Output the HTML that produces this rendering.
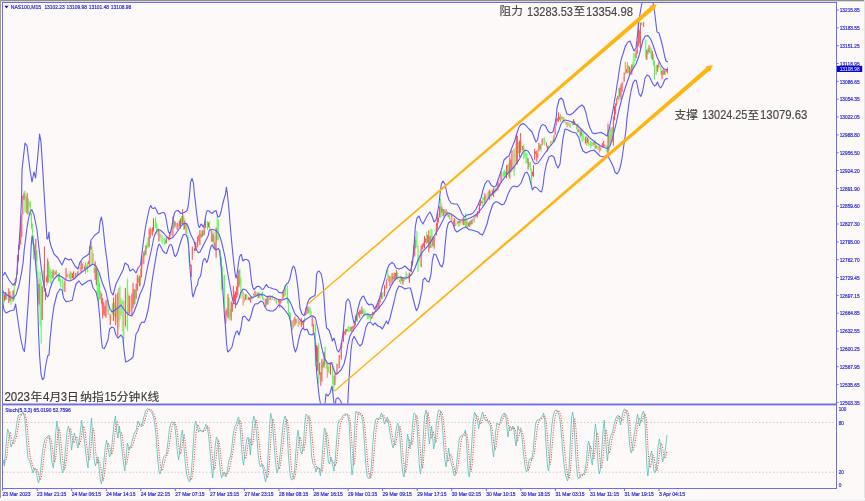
<!DOCTYPE html>
<html><head><meta charset="utf-8"><title>NAS100 M15</title>
<style>html,body{margin:0;padding:0;background:#FDF9F8;}body{width:865px;height:501px;overflow:hidden;position:relative;font-family:"Liberation Sans",sans-serif;}</style>
</head><body>
<svg width="865" height="501" viewBox="0 0 865 501" style="position:absolute;left:0;top:0;font-family:'Liberation Sans',sans-serif">
<defs><clipPath id="cm"><rect x="3" y="3" width="833" height="400.5"/></clipPath><clipPath id="cs"><rect x="3" y="405" width="833" height="83"/></clipPath></defs>
<rect x="0" y="0" width="865" height="1" fill="#8f8f8f"/>
<rect x="0" y="1" width="865" height="1" fill="#d9d6d6"/>
<rect x="0" y="0" width="1" height="498" fill="#9c9c9c"/>
<rect x="864" y="0" width="1" height="498" fill="#e4e2e2"/>
<rect x="0" y="499" width="865" height="2" fill="#f4f2f2"/>
<g clip-path="url(#cm)">
<g style="mix-blend-mode:multiply"><path d="M3.4 290.0V307.0M6.6 291.4V300.3M11.0 295.0V305.0M12.0 292.3V302.6M14.2 283.0V300.0M16.4 272.7V279.2M25.0 190.0V213.6M26.1 195.0V213.0M29.3 200.1V211.9M30.4 201.0V216.0M31.5 212.0V230.0M32.6 222.0V245.0M33.6 235.0V260.0M34.7 243.3V254.2M36.9 250.0V275.0M37.9 270.0V302.0M40.1 268.0V330.0M41.2 280.0V344.0M43.3 263.8V301.6M48.7 261.0V283.0M49.8 265.7V283.4M50.9 270.0V285.0M52.0 271.6V281.9M54.1 269.6V275.9M57.4 271.5V277.3M58.5 273.0V281.6M59.5 273.0V281.6M60.6 276.4V287.2M61.7 280.4V288.7M62.8 278.6V295.0M68.2 270.7V278.3M69.3 273.1V278.8M71.4 272.1V279.3M74.7 271.4V277.4M76.8 271.9V275.9M79.0 268.6V272.8M83.3 261.9V270.2M85.5 262.0V274.0M86.5 263.9V272.0M87.6 262.0V273.0M91.9 245.5V265.0M94.1 260.6V273.6M97.3 268.0V295.0M98.4 273.0V306.0M99.5 282.0V300.0M100.6 289.9V302.8M108.1 298.6V315.0M111.4 307.3V318.4M112.4 303.3V320.5M114.6 293.9V322.5M118.9 285.8V330.0M120.0 285.0V321.0M121.1 297.2V316.5M123.2 298.6V345.0M126.5 286.5V329.3M127.6 276.8V332.4M130.8 295.9V312.1M135.1 289.5V304.6M138.4 273.9V285.0M144.8 248.2V256.4M147.0 241.6V251.4M148.1 237.1V248.5M151.3 229.0V234.5M154.6 221.1V229.7M155.6 217.0V228.6M156.7 222.5V234.6M157.8 226.5V236.6M161.0 233.5V241.2M162.1 234.6V243.6M163.2 235.9V243.4M164.3 237.6V245.0M165.4 238.1V243.7M167.5 237.5V242.9M171.8 226.2V234.5M174.0 219.5V228.6M178.3 222.7V228.5M181.5 216.0V225.1M183.7 215.0V230.0M186.9 222.5V234.6M188.0 234.6V243.6M189.1 251.0V263.0M193.4 246.4V253.8M201.0 232.6V238.2M203.1 228.4V235.5M206.4 220.7V228.3M207.5 221.0V230.0M209.6 221.0V230.0M210.7 226.4V234.7M213.9 230.2V249.4M217.2 214.0V242.0M218.3 219.5V240.6M219.3 235.8V252.8M220.4 249.6V266.0M221.5 255.0V292.6M222.6 266.0V290.0M224.7 273.0V310.6M229.1 297.0V321.0M230.1 302.5V320.4M239.9 267.8V286.6M240.9 277.5V298.6M242.0 289.1V296.8M244.2 294.9V302.5M246.3 294.0V300.0M251.7 296.0V300.9M252.8 294.1V298.4M257.1 292.1V296.4M259.3 292.6V297.9M261.4 291.8V297.7M262.5 291.0V300.0M263.6 295.2V300.3M266.8 298.2V304.8M269.0 297.1V302.8M271.2 296.6V300.4M272.2 295.6V300.0M273.3 297.4V299.7M276.6 298.6V304.6M277.6 300.5V304.9M284.1 288.8V297.0M286.3 288.9V299.6M287.4 285.0V304.6M288.4 298.6V315.0M289.5 311.0V319.4M290.6 312.0V327.0M292.8 319.6V330.0M293.8 318.2V327.7M297.1 319.7V324.4M298.2 318.0V327.0M300.3 318.3V325.0M302.5 319.6V325.1M304.6 316.8V322.6M309.0 308.0V313.8M310.0 306.0V315.0M311.1 310.9V318.5M314.3 320.3V350.7M315.4 323.0V367.6M318.7 340.5V384.0M323.0 359.7V375.0M325.1 346.6V364.6M326.2 362.2V369.7M328.4 364.6V373.5M331.6 367.3V377.4M332.7 361.6V385.6M333.8 376.0V392.0M338.1 361.3V368.8M340.3 349.9V362.5M347.8 326.7V331.9M348.9 325.5V333.0M350.0 326.4V331.2M357.5 312.5V321.9M362.9 308.8V313.6M364.0 308.6V316.0M365.1 310.9V316.7M366.2 312.2V316.0M367.3 313.0V319.0M368.3 313.0V319.0M369.4 314.0V319.1M370.5 314.6V321.4M374.8 308.8V313.2M382.4 292.0V299.6M387.8 269.6V280.0M391.0 274.1V282.3M393.2 273.9V280.6M397.5 271.6V279.7M398.6 273.1V280.1M399.6 276.6V283.6M400.7 275.6V284.6M404.0 276.5V282.2M406.1 271.0V280.0M408.3 273.0V279.6M410.4 271.4V276.7M415.8 237.1V249.4M416.9 230.0V248.0M418.0 245.0V272.0M419.1 251.3V265.0M420.2 248.8V265.9M426.6 231.6V245.0M431.0 228.6V248.0M432.0 228.6V248.0M440.7 197.8V218.0M442.8 208.4V217.4M445.0 210.9V214.3M449.3 212.0V219.6M451.5 213.6V221.0M455.8 219.1V226.6M456.9 219.8V224.7M459.0 219.6V227.0M461.2 219.9V226.2M464.4 217.2V226.7M465.5 212.8V228.6M466.6 219.1V227.4M467.7 221.0V228.6M470.9 220.1V225.7M473.1 218.4V222.1M475.2 214.7V219.0M482.8 197.0V206.0M483.9 196.2V203.7M486.0 195.1V203.6M488.2 191.4V200.4M490.3 189.7V199.1M494.7 187.4V194.4M495.7 187.2V193.3M503.3 170.1V177.7M504.4 169.6V178.6M505.5 170.6V176.6M507.6 164.2V175.1M508.7 160.3V178.7M514.1 147.0V177.0M518.4 142.0V154.0M523.8 144.0V159.0M524.9 148.9V158.7M526.0 153.0V163.6M527.0 153.0V163.6M529.2 160.5V167.5M530.3 162.0V171.0M531.4 168.0V184.6M541.1 144.0V151.6M544.3 136.5V145.6M545.4 139.6V145.2M548.6 145.6V149.8M549.7 143.8V148.3M551.9 139.9V143.7M553.0 137.4V142.0M560.5 114.0V122.0M561.6 115.0V120.3M563.8 117.0V123.0M565.9 120.9V125.1M570.2 123.0V128.0M571.3 121.8V126.1M572.4 120.4V125.6M575.6 123.2V127.6M576.7 124.1V129.6M577.8 123.0V133.5M580.0 129.5V137.1M582.1 130.5V142.5M583.2 132.3V142.3M584.3 133.6V140.9M586.4 135.0V145.6M589.7 141.9V145.9M590.7 141.0V148.6M591.8 141.7V148.2M592.9 141.9V146.4M595.1 139.5V149.0M598.3 145.5V149.9M605.9 144.8V151.0M606.9 145.0V152.6M609.1 130.6V152.6M611.3 127.0V142.0M612.3 127.0V142.0M618.8 88.0V101.5M625.3 61.6V75.0M628.5 65.1V75.1M630.7 66.8V72.8M632.9 59.4V69.3M633.9 52.6V67.6M635.0 53.3V61.3M641.5 21.8V25.5M644.7 33.0V43.4M645.8 39.0V60.0M648.0 47.4V54.6M650.1 46.6V54.0M651.2 48.0V58.6M653.4 54.0V66.0M654.5 60.0V80.0M656.6 64.0V75.0M659.8 65.6V69.3M660.9 66.0V75.0M665.2 70.6V75.0" stroke="#60FF60" stroke-width="0.7" stroke-opacity="0.45" fill="none"/><path d="M4.5 293.4V303.3M5.6 292.0V300.0M7.7 292.1V298.3M8.8 288.0V303.0M9.9 290.9V302.4M13.1 290.0V302.0M15.3 278.0V286.0M17.4 255.0V275.0M18.5 245.0V262.0M19.6 235.0V250.0M20.7 222.0V245.0M21.8 213.0V238.0M22.8 195.0V215.0M23.9 190.8V200.8M27.2 192.5V215.0M28.2 198.6V215.0M35.8 238.0V262.0M39.0 278.4V307.1M42.3 285.0V320.0M44.4 246.0V292.0M45.5 288.0V300.0M46.6 275.0V286.9M47.7 257.0V285.0M53.1 269.0V278.6M55.2 271.2V274.6M56.3 269.6V275.6M63.9 282.7V291.7M64.9 280.0V292.0M66.0 268.0V280.0M67.1 271.9V277.3M70.3 271.0V280.0M72.5 273.3V278.3M73.6 271.0V279.0M75.7 272.6V277.5M77.9 271.0V276.0M80.1 266.6V271.2M81.1 260.5V272.6M82.2 263.4V270.2M84.4 265.3V270.8M88.7 260.1V266.8M89.8 245.5V266.6M90.9 241.0V250.0M93.0 250.4V263.6M95.2 260.5V280.0M96.3 268.1V286.1M101.7 292.7V308.5M102.7 298.0V319.6M103.8 301.5V315.9M104.9 305.1V316.4M106.0 300.0V318.0M107.1 299.4V312.2M109.2 309.2V320.6M110.3 313.6V325.6M113.5 297.0V321.0M115.7 292.5V327.0M116.8 294.8V322.0M117.8 289.5V339.0M122.2 301.2V331.4M124.3 301.3V339.1M125.4 288.0V328.6M128.6 292.7V315.2M129.7 295.5V315.0M131.9 292.5V316.6M133.0 282.0V309.0M134.0 288.7V306.1M136.2 282.8V300.0M137.3 274.5V291.0M139.4 274.8V286.9M140.5 268.0V286.5M141.6 255.6V278.0M142.7 254.2V268.9M143.8 251.0V264.6M145.9 245.0V255.6M149.2 228.6V248.0M150.2 227.0V239.0M152.4 227.0V236.0M153.5 218.0V231.6M158.9 230.0V242.0M160.0 231.5V241.7M166.4 237.6V243.6M168.6 235.0V241.7M169.7 232.0V240.6M170.8 230.5V237.8M172.9 216.5V236.0M175.1 221.3V228.4M176.2 223.7V227.9M177.2 222.5V230.0M179.4 220.3V227.8M180.5 218.0V228.6M182.6 209.0V225.5M184.8 218.0V229.4M185.9 222.5V234.6M190.2 261.6V267.6M191.3 264.6V277.0M192.3 246.6V260.0M194.5 246.3V252.9M195.6 242.0V251.0M196.7 242.0V249.5M197.7 236.3V247.9M198.8 234.2V242.7M199.9 230.0V245.0M202.1 230.0V237.6M204.2 226.0V236.0M205.3 218.8V228.6M208.5 221.9V227.4M211.8 230.0V242.0M212.9 233.4V243.5M215.0 236.0V251.6M216.1 227.0V259.4M223.7 275.3V298.3M225.8 310.6V324.0M226.9 307.6V320.6M228.0 294.0V318.0M231.2 300.0V321.0M232.3 297.8V312.6M233.4 285.0V304.6M234.5 290.4V302.2M235.5 291.0V309.0M236.6 285.4V300.1M237.7 274.5V297.0M238.8 270.0V288.0M243.1 291.0V306.0M245.3 294.0V300.0M247.4 295.1V300.0M248.5 296.6V300.5M249.6 297.5V301.5M250.6 297.0V303.0M253.9 292.8V296.5M255.0 290.3V296.3M256.0 292.5V295.7M258.2 292.6V298.6M260.4 292.5V299.2M264.7 298.1V304.2M265.8 298.6V307.6M267.9 295.6V304.6M270.1 295.6V302.6M274.4 297.4V301.0M275.5 299.1V303.0M278.7 299.0V305.5M279.8 298.6V307.6M280.9 299.0V303.7M282.0 293.4V301.5M283.0 291.0V300.0M285.2 285.0V295.6M291.7 320.5V327.6M294.9 316.6V326.0M296.0 318.7V324.3M299.2 320.3V324.8M301.4 318.0V327.0M303.6 319.6V328.6M305.7 307.6V316.0M306.8 307.4V315.1M307.9 306.0V313.6M312.2 315.0V327.0M313.3 318.8V333.6M316.5 342.3V362.8M317.6 345.0V372.0M319.7 362.3V379.1M320.8 372.0V386.0M321.9 358.6V382.6M324.1 351.3V367.7M327.3 363.0V378.0M329.5 363.5V373.4M330.5 363.0V375.0M334.9 373.6V385.6M335.9 371.3V380.2M337.0 363.0V375.0M339.2 354.8V369.0M341.3 342.0V360.0M342.4 338.7V348.5M343.5 329.0V342.0M344.6 329.7V336.2M345.7 329.0V335.0M346.7 329.0V332.3M351.1 326.8V332.0M352.1 326.3V331.1M353.2 326.0V331.5M354.3 322.4V328.0M355.4 315.0V325.5M356.5 316.5V321.4M358.6 311.5V317.6M359.7 310.0V318.5M360.8 309.3V314.2M361.9 306.4V314.6M371.6 315.5V319.1M372.7 311.6V317.6M373.7 311.7V315.5M375.9 305.6V311.6M377.0 304.7V308.6M378.1 302.9V308.0M379.1 299.6V308.6M380.2 295.5V302.8M381.3 292.0V299.6M383.4 291.5V296.9M384.5 284.6V296.6M385.6 282.9V293.6M386.7 278.6V289.0M388.8 274.1V282.2M389.9 275.6V286.0M392.1 272.6V284.6M394.2 272.6V280.0M395.3 273.0V279.0M396.4 270.0V278.6M401.8 276.8V282.6M402.9 277.0V285.0M405.0 276.1V280.2M407.2 273.0V277.9M409.4 272.6V283.0M411.5 260.5V272.6M412.6 256.8V263.1M413.7 245.0V258.0M414.8 236.0V257.0M421.2 245.0V268.0M422.3 243.2V256.4M423.4 240.5V248.7M424.5 236.0V248.0M425.6 237.5V243.1M427.7 234.8V243.4M428.8 230.0V252.6M429.9 235.3V248.4M433.1 236.4V246.2M434.2 236.0V249.6M435.3 227.9V240.3M436.4 222.6V236.0M437.4 212.0V230.0M438.5 213.4V223.7M439.6 206.0V218.0M441.8 203.1V216.5M443.9 209.0V217.3M446.1 209.0V215.0M447.2 211.3V215.2M448.2 212.8V217.2M450.4 213.6V220.0M452.5 215.7V221.7M453.6 218.3V224.0M454.7 218.0V227.0M457.9 220.8V226.5M460.1 220.8V225.3M462.3 217.5V223.6M463.3 216.6V225.6M468.7 222.0V226.8M469.8 221.0V227.0M472.0 218.6V224.9M474.1 215.0V222.6M476.3 213.8V217.3M477.4 210.6V218.0M478.5 207.7V215.1M479.5 203.0V213.6M480.6 200.0V206.0M481.7 200.8V203.9M484.9 192.5V204.6M487.1 193.0V199.4M489.3 189.5V200.0M491.4 189.6V198.5M492.5 189.1V196.0M493.6 188.0V197.0M496.8 185.1V191.6M497.9 181.6V190.6M499.0 179.6V187.2M500.1 175.1V183.9M501.1 171.0V183.0M502.2 173.0V179.9M506.5 165.0V178.6M509.8 156.0V180.0M510.9 159.0V172.6M511.9 150.0V169.6M513.0 149.1V171.7M515.2 147.0V170.3M516.3 135.0V165.0M517.3 135.0V165.0M519.5 139.5V157.6M520.6 132.8V153.0M521.6 141.5V150.1M522.7 145.6V152.8M528.1 157.6V169.6M532.4 171.2V179.0M533.5 165.0V177.0M534.6 148.6V160.6M535.7 151.3V158.2M536.8 150.0V162.0M537.8 148.4V158.1M538.9 142.5V151.6M540.0 143.2V149.3M542.2 138.0V145.6M543.2 138.2V143.4M546.5 142.1V148.5M547.6 145.6V151.6M550.8 141.0V146.0M554.0 135.0V142.5M555.1 126.0V135.0M556.2 118.0V126.0M557.3 117.5V122.5M558.4 112.0V122.0M559.4 114.4V120.5M562.7 116.4V121.5M564.8 119.6V122.6M567.0 121.5V127.5M568.1 122.1V126.1M569.2 122.7V127.5M573.5 119.0V125.0M574.6 120.8V125.8M578.9 126.6V132.8M581.0 128.8V138.9M585.4 136.2V144.1M587.5 136.8V146.0M588.6 138.1V146.1M594.0 142.0V146.6M596.1 142.9V149.0M597.2 143.6V149.8M599.4 145.0V152.6M600.5 145.4V150.9M601.5 143.7V149.3M602.6 142.4V147.7M603.7 140.6V147.0M604.8 144.2V147.5M608.0 121.0V158.6M610.2 127.0V145.0M613.4 115.0V146.6M614.5 106.0V121.0M615.6 103.0V115.0M616.7 98.0V106.0M617.7 95.1V102.7M619.9 86.4V100.0M621.0 84.0V100.0M622.1 82.0V92.0M623.1 77.1V85.1M624.2 72.0V82.0M626.4 65.0V73.0M627.5 62.0V74.0M629.6 66.0V76.6M631.8 64.0V75.0M636.1 49.6V58.6M637.2 40.5V54.0M638.3 21.0V46.6M639.3 28.5V47.8M640.4 22.5V51.0M642.6 22.9V25.0M643.7 21.8V27.0M646.9 49.6V60.0M649.1 45.0V52.6M652.3 50.8V60.5M655.5 64.9V74.6M657.7 64.6V72.0M658.8 61.6V67.6M662.0 70.6V79.6M663.1 69.0V75.0M664.2 70.2V74.5M666.3 68.7V72.7M667.4 67.6V73.6" stroke="#FF6060" stroke-width="0.7" stroke-opacity="0.45" fill="none" style="mix-blend-mode:multiply"/><path d="M3.4 290.4V306.8M6.6 294.3V299.7M11.0 295.4V304.9M14.2 284.0V299.7M25.0 191.2V211.7M26.1 196.2V212.6M29.3 201.8V206.8M30.4 201.5V215.3M31.5 213.3V228.8M32.6 223.6V244.5M33.6 235.8V259.3M34.7 244.4V249.2M36.9 250.5V275.0M37.9 271.4V299.6M40.1 271.9V325.7M41.2 282.0V343.5M48.7 261.8V282.1M49.8 267.8V277.6M50.9 270.0V283.9M52.0 271.7V278.7M58.5 273.7V281.3M59.5 273.2V281.4M60.6 279.1V286.9M62.8 279.2V294.8M71.4 272.4V278.8M86.5 265.6V268.5M87.6 262.1V272.1M91.9 246.8V264.6M94.1 268.0V273.1M97.3 268.2V294.7M98.4 273.1V305.5M99.5 282.4V299.6M108.1 299.5V314.6M112.4 303.4V314.6M114.6 302.5V316.5M120.0 286.5V319.5M121.1 298.9V315.3M123.2 300.7V342.7M127.6 279.0V330.7M135.1 289.5V304.0M138.4 277.3V282.6M144.8 249.9V256.3M147.0 242.6V248.6M148.1 237.4V247.7M155.6 217.2V228.0M156.7 222.8V234.1M157.8 227.7V232.2M162.1 234.9V243.4M164.3 237.7V244.8M165.4 240.1V243.6M174.0 219.9V228.2M181.5 216.4V224.0M183.7 215.6V229.8M186.9 222.9V233.7M188.0 235.3V242.9M189.1 251.3V262.8M201.0 234.0V238.1M203.1 230.7V235.3M207.5 221.2V230.0M209.6 221.4V229.5M213.9 231.5V248.4M217.2 215.9V240.0M218.3 219.6V240.1M220.4 250.2V265.7M221.5 257.3V289.8M222.6 266.2V288.9M224.7 275.0V310.0M229.1 297.8V319.9M230.1 309.4V317.4M239.9 269.0V285.1M240.9 277.8V298.4M242.0 289.2V294.1M246.3 294.1V299.9M251.7 296.2V299.3M252.8 295.8V297.4M257.1 292.1V296.0M259.3 292.7V297.5M261.4 293.6V296.1M262.5 291.6V299.6M263.6 298.2V300.3M266.8 298.4V304.6M272.2 295.7V299.9M276.6 298.6V304.3M284.1 289.2V296.7M287.4 285.5V303.2M288.4 299.0V314.7M289.5 312.3V318.7M290.6 313.0V326.2M304.6 317.5V322.0M309.0 308.7V312.5M310.0 306.7V314.8M311.1 311.2V316.1M315.4 323.8V366.0M318.7 343.1V383.4M323.0 361.8V368.6M325.1 346.7V364.0M326.2 362.9V368.8M328.4 365.7V372.4M332.7 362.2V384.4M333.8 376.1V391.5M347.8 327.2V331.5M348.9 325.6V332.4M350.0 327.0V331.1M357.5 313.0V321.6M362.9 310.4V313.4M364.0 308.7V315.9M365.1 311.2V314.9M367.3 313.4V318.8M368.3 313.2V318.5M369.4 314.0V317.7M370.5 315.1V321.2M382.4 292.4V299.2M387.8 269.8V279.7M393.2 276.4V279.2M397.5 272.7V279.3M400.7 275.8V284.1M404.0 277.2V281.3M406.1 271.6V279.8M410.4 274.2V276.2M415.8 239.5V248.2M416.9 231.1V246.9M418.0 246.0V271.8M419.1 255.4V262.1M426.6 232.1V244.0M431.0 229.2V247.8M432.0 230.1V247.6M440.7 199.0V217.8M442.8 208.8V215.8M445.0 211.7V213.2M449.3 212.2V219.1M459.0 219.8V226.9M465.5 213.7V227.6M467.7 221.5V228.0M470.9 220.1V224.8M473.1 218.6V220.1M482.8 197.4V206.0M483.9 196.9V199.6M488.2 191.7V198.3M494.7 189.2V193.2M495.7 188.2V192.3M503.3 171.2V176.6M504.4 169.9V178.0M505.5 171.7V175.2M508.7 163.6V176.4M514.1 149.4V175.8M518.4 142.4V153.5M523.8 144.6V158.8M524.9 149.9V156.9M526.0 153.0V163.3M527.0 153.7V163.3M529.2 161.9V166.8M530.3 162.4V170.8M531.4 168.9V183.9M541.1 144.2V151.6M544.3 137.2V145.4M548.6 145.7V148.2M551.9 140.9V142.5M553.0 139.3V141.9M561.6 116.6V119.4M563.8 117.3V122.9M570.2 123.1V127.7M572.4 120.8V125.3M577.8 123.6V133.1M580.0 131.9V137.0M582.1 131.2V141.9M583.2 133.8V140.4M586.4 135.7V145.5M589.7 143.6V145.2M590.7 141.1V148.3M591.8 141.7V146.1M595.1 140.2V148.9M598.3 146.0V149.9M606.9 145.5V152.0M609.1 133.9V150.5M611.3 127.4V140.9M612.3 127.0V141.8M618.8 88.1V100.6M628.5 65.7V72.8M632.9 62.5V68.1M633.9 52.7V66.9M635.0 53.8V61.0M641.5 22.0V25.3M645.8 39.7V58.5M648.0 47.9V54.3M651.2 48.5V58.3M653.4 54.3V65.7M654.5 60.8V79.6M656.6 64.8V74.3M660.9 66.4V74.5M665.2 70.7V75.0" stroke="#60FF60" stroke-width="1.0" fill="none" style="mix-blend-mode:multiply"/><path d="M4.5 294.6V301.2M5.6 292.0V299.7M8.8 288.3V302.8M9.9 291.2V300.9M13.1 290.3V301.2M15.3 278.4V285.7M17.4 255.2V274.2M18.5 245.1V261.1M19.6 235.9V249.3M20.7 223.6V244.4M21.8 214.4V236.8M22.8 195.9V214.3M23.9 193.2V199.6M27.2 193.2V213.8M35.8 238.9V260.9M39.0 283.8V304.5M42.3 286.8V319.8M44.4 246.6V291.6M45.5 288.3V300.0M46.6 276.7V281.9M47.7 258.9V282.8M53.1 269.7V278.1M55.2 271.6V274.5M64.9 280.7V291.8M66.0 268.1V279.9M67.1 274.4V276.8M72.5 273.5V278.1M73.6 271.3V278.9M75.7 273.0V276.3M77.9 271.2V275.7M81.1 260.7V272.5M82.2 263.5V269.5M84.4 266.6V269.1M88.7 261.2V264.0M89.8 246.0V266.4M90.9 241.3V249.3M95.2 261.8V279.9M96.3 268.5V284.8M101.7 293.6V304.4M102.7 298.2V318.2M103.8 302.3V314.6M104.9 306.3V315.9M106.0 300.1V317.8M110.3 314.5V325.1M113.5 297.8V320.9M115.7 294.3V325.0M117.8 292.8V335.5M125.4 288.2V326.2M129.7 295.9V313.8M131.9 293.8V316.0M133.0 283.1V308.0M134.0 289.1V304.5M136.2 283.9V298.7M137.3 275.1V290.6M139.4 275.8V286.0M141.6 256.5V277.2M143.8 251.8V263.7M145.9 245.3V254.8M149.2 229.2V246.5M150.2 227.8V238.2M152.4 227.5V235.7M153.5 218.3V231.5M158.9 230.2V241.1M166.4 237.6V243.3M168.6 237.0V239.9M169.7 232.5V240.2M170.8 230.6V235.5M172.9 216.7V235.9M175.1 221.3V226.3M177.2 222.9V229.8M179.4 220.7V226.4M180.5 218.4V228.4M182.6 209.4V224.2M184.8 220.7V229.3M190.2 264.1V266.3M191.3 264.9V276.8M192.3 246.6V259.7M194.5 248.2V250.7M195.6 242.1V250.7M197.7 236.6V247.0M198.8 234.8V240.9M199.9 230.3V245.0M202.1 230.3V237.0M204.2 226.6V235.3M205.3 219.4V228.1M208.5 222.5V227.3M211.8 230.6V241.9M212.9 234.6V241.5M215.0 242.5V250.1M216.1 228.2V257.3M225.8 310.6V323.6M226.9 308.8V315.8M228.0 294.1V317.8M231.2 301.6V320.5M232.3 302.9V311.8M233.4 286.1V304.3M234.5 294.6V301.6M235.5 291.8V308.1M236.6 286.9V297.6M237.7 275.4V295.3M238.8 270.2V287.3M245.3 294.1V299.8M248.5 297.4V299.5M249.6 297.5V300.0M250.6 297.4V302.6M253.9 293.9V295.3M255.0 290.7V295.8M258.2 292.7V298.2M265.8 298.7V307.1M267.9 295.6V304.5M270.1 296.0V299.9M278.7 299.1V302.6M279.8 299.1V307.6M280.9 300.3V303.2M283.0 291.5V299.8M294.9 316.6V325.5M296.0 318.8V323.2M301.4 318.2V326.8M303.6 319.9V328.3M305.7 307.7V315.4M307.9 306.3V313.3M312.2 315.8V326.3M313.3 324.2V332.9M316.5 345.0V361.4M317.6 346.8V370.6M319.7 363.0V374.6M320.8 372.3V385.8M321.9 359.2V381.2M324.1 352.1V367.4M330.5 363.7V374.6M334.9 374.4V384.9M337.0 363.9V374.8M339.2 355.0V368.1M341.3 342.8V359.4M343.5 329.4V341.9M344.6 331.4V333.8M345.7 329.1V334.9M346.7 329.2V331.4M351.1 327.1V331.5M352.1 326.3V328.5M353.2 326.1V331.4M354.3 323.4V327.5M355.4 315.7V325.5M356.5 316.7V320.6M358.6 311.9V315.3M359.7 310.1V317.9M360.8 310.4V314.1M361.9 306.5V314.1M371.6 316.6V318.9M372.7 311.9V317.4M373.7 312.4V314.8M375.9 305.8V311.5M377.0 305.5V308.4M378.1 303.0V307.1M379.1 300.0V308.6M380.2 299.1V302.5M381.3 292.5V299.0M384.5 285.3V296.5M386.7 279.3V288.5M389.9 276.1V286.0M392.1 273.0V284.0M394.2 272.6V280.0M395.3 273.0V278.7M396.4 270.0V278.1M401.8 276.9V280.7M402.9 277.3V284.6M409.4 272.6V282.8M411.5 261.1V272.3M412.6 258.2V262.9M413.7 245.6V257.2M414.8 236.3V255.7M421.2 245.7V267.0M422.3 243.6V249.3M423.4 243.2V246.8M424.5 236.0V248.0M425.6 238.6V242.3M427.7 235.0V242.9M428.8 230.3V252.4M429.9 236.3V248.3M433.1 236.9V245.9M434.2 237.1V248.5M436.4 222.7V235.2M437.4 213.0V229.1M438.5 217.7V222.2M439.6 206.3V217.4M441.8 206.8V212.5M443.9 209.1V216.7M446.1 209.4V214.7M448.2 214.9V216.9M453.6 220.7V223.7M454.7 218.2V226.3M457.9 221.1V223.4M460.1 220.9V223.1M463.3 217.2V225.3M468.7 222.9V226.1M469.8 221.1V226.9M472.0 219.6V224.1M476.3 214.4V216.4M477.4 211.2V217.5M479.5 203.7V212.9M480.6 200.0V205.8M481.7 201.5V203.0M484.9 193.4V204.0M489.3 189.9V199.8M492.5 190.5V194.8M493.6 188.2V196.8M497.9 181.9V190.3M499.0 183.3V187.0M501.1 171.7V182.3M506.5 165.3V178.2M509.8 157.6V178.4M510.9 160.0V172.4M511.9 150.7V168.2M516.3 135.2V164.1M517.3 136.0V163.7M519.5 140.9V157.1M520.6 133.1V152.5M522.7 146.0V150.4M528.1 158.3V169.6M532.4 171.6V176.2M533.5 165.1V176.8M534.6 149.1V159.8M535.7 151.3V154.0M536.8 150.7V161.7M537.8 153.5V157.5M538.9 142.8V151.3M540.0 145.0V149.3M542.2 138.6V145.1M546.5 142.6V146.3M547.6 145.9V151.5M554.0 135.3V142.4M555.1 126.3V134.9M556.2 118.5V125.8M557.3 118.0V120.9M558.4 112.7V121.9M559.4 116.7V119.8M573.5 119.1V124.6M574.6 120.9V124.8M578.9 129.3V132.0M581.0 129.6V135.7M585.4 137.4V143.3M587.5 137.7V142.5M594.0 142.4V144.8M596.1 145.6V148.5M602.6 143.1V147.0M603.7 140.8V146.7M604.8 144.7V146.2M608.0 123.9V156.7M613.4 116.7V145.5M614.5 106.1V120.2M615.6 103.4V114.4M616.7 98.3V105.7M617.7 95.9V99.1M619.9 87.6V96.7M621.0 84.3V99.3M622.1 82.1V91.6M624.2 72.6V81.4M626.4 69.2V72.8M629.6 66.4V75.8M631.8 64.7V74.7M636.1 49.9V58.0M637.2 41.1V53.9M638.3 21.0V46.4M639.3 30.3V43.5M640.4 22.8V49.0M643.7 22.1V27.0M646.9 50.1V59.9M649.1 45.2V52.3M652.3 50.9V59.9M657.7 65.0V71.6M658.8 61.8V67.5M662.0 70.9V79.2M663.1 69.2V75.0M664.2 70.3V74.3M666.3 69.3V71.8M667.4 67.6V73.5" stroke="#FF6060" stroke-width="1.0" fill="none" style="mix-blend-mode:multiply"/><path d="M28.2 198.6V214.4M43.3 270.9V287.8M54.1 271.2V275.4M56.3 269.8V275.4M69.3 273.7V278.6M70.3 271.2V279.8M80.1 266.9V268.9M85.5 262.2V273.7M93.0 253.2V262.4M100.6 290.8V299.1M116.8 305.8V317.8M118.9 288.0V327.4M128.6 295.3V313.5M140.5 269.3V285.8M142.7 256.3V264.4M151.3 229.2V234.3M160.0 233.6V237.7M178.3 224.6V227.5M185.9 223.4V234.5M196.7 244.5V249.0M243.1 292.1V305.3M244.2 297.6V302.1M274.4 298.7V300.9M285.2 285.2V295.1M291.7 321.3V327.0M292.8 320.1V329.9M293.8 318.5V327.1M298.2 318.1V326.9M299.2 321.3V324.6M300.3 319.4V322.6M302.5 321.3V324.9M306.8 310.5V314.2M327.3 363.1V377.8M388.8 276.1V281.1M391.0 276.4V282.1M399.6 279.5V282.0M408.3 274.7V279.4M447.2 211.5V214.3M451.5 213.6V220.5M455.8 223.2V225.8M462.3 219.4V223.4M464.4 218.7V224.9M466.6 219.8V226.2M474.1 215.2V222.5M475.2 216.1V217.9M486.0 195.7V201.9M490.3 191.2V195.3M496.8 188.5V191.1M507.6 164.9V174.3M550.8 141.1V145.9M560.5 114.4V121.8M562.7 116.6V119.3M565.9 122.0V124.5M567.0 121.9V127.3M568.1 122.7V125.8M576.7 124.7V129.3M588.6 139.2V144.2M592.9 142.2V145.5M599.4 145.1V152.4M600.5 147.5V150.8M610.2 128.4V144.3M625.3 61.7V73.9M627.5 62.1V73.3M630.7 68.5V72.7M650.1 46.9V53.8" stroke="#DDA560" stroke-width="1.0" fill="none"/></g>
<polyline fill="none" stroke="#5C5CF7" stroke-width="1.1" stroke-linejoin="round" points="2.0,277.0 5.0,272.4 9.0,280.0 13.0,285.0 16.0,282.0 18.0,260.0 20.0,230.0 21.5,200.0 22.0,170.0 25.0,143.0 27.0,146.0 30.0,170.0 32.0,182.0 34.0,172.0 35.6,178.0 38.0,154.0 39.6,134.0 41.0,142.0 43.0,174.0 44.5,200.0 47.0,239.0 48.0,238.0 49.0,232.0 49.5,240.0 51.0,246.0 54.0,254.0 58.0,258.0 62.0,265.0 65.0,258.0 69.0,260.0 71.0,259.0 75.0,266.0 78.0,269.0 80.0,262.0 83.0,258.0 86.0,256.0 89.0,254.0 91.0,240.0 95.0,235.0 99.0,232.0 100.0,222.0 101.4,217.0 103.0,226.0 105.0,246.0 107.0,260.0 109.0,280.0 111.0,292.0 113.0,295.0 116.0,284.0 120.0,276.0 123.0,270.0 125.0,263.0 128.0,265.0 130.0,271.0 133.0,269.0 136.0,273.0 138.0,268.0 140.5,265.0 143.0,245.0 145.0,230.0 147.5,217.0 149.5,208.0 150.8,205.5 152.0,208.0 153.5,208.5 155.0,207.5 156.5,210.0 158.0,213.5 159.5,214.0 161.0,213.0 163.0,212.5 164.5,213.0 165.5,216.0 166.5,221.0 167.5,227.0 168.5,232.0 169.5,233.5 170.5,232.0 171.5,228.0 172.5,223.0 173.5,217.0 174.5,213.0 176.0,211.0 178.0,210.5 179.5,212.0 181.0,213.5 183.0,213.0 185.0,212.0 187.0,210.5 188.0,207.0 188.8,201.0 189.5,195.0 190.6,182.0 192.0,178.4 193.4,183.0 194.5,195.0 195.5,203.0 196.5,212.0 197.5,220.0 198.5,226.0 199.5,227.5 200.5,225.0 201.5,224.0 202.5,226.0 203.5,227.0 204.5,224.0 205.5,217.0 206.5,212.0 207.5,210.5 209.0,211.0 210.5,212.5 212.0,213.5 213.5,212.0 215.0,211.0 216.0,210.5 217.0,214.0 218.0,217.0 219.5,216.5 221.0,212.0 222.5,205.0 224.0,199.0 225.5,194.0 226.4,187.0 227.4,194.0 229.0,210.0 230.6,230.0 231.5,240.0 232.5,250.0 233.5,260.0 234.5,269.0 235.5,276.0 236.2,278.0 237.2,273.0 238.5,263.0 239.5,257.0 240.5,255.0 241.5,254.5 242.2,259.0 243.0,261.0 244.5,259.5 246.5,259.5 248.5,260.5 249.5,263.0 250.2,269.0 251.0,277.0 252.0,284.0 253.0,288.0 254.0,289.5 255.5,288.0 257.0,286.5 258.5,286.2 260.0,287.0 261.5,289.0 263.0,289.5 264.5,287.5 265.5,285.5 266.5,284.5 267.5,286.5 269.0,287.5 271.0,288.0 273.0,288.8 275.0,289.2 277.0,290.0 279.0,292.4 282.0,293.0 284.0,290.0 285.0,287.0 286.5,284.0 288.0,283.0 289.5,280.0 290.5,276.0 291.5,271.0 292.5,267.5 293.5,266.2 294.5,267.5 295.5,271.0 296.5,277.0 297.5,284.0 298.2,290.0 299.0,298.0 300.0,308.0 302.0,314.0 304.0,315.6 306.0,310.0 307.5,303.0 309.0,299.5 311.0,297.5 313.0,296.5 315.0,295.5 315.8,288.0 316.5,275.0 317.8,271.5 319.1,271.0 321.2,274.0 322.3,279.0 323.3,286.0 324.2,300.0 325.2,315.0 326.6,328.0 329.0,330.0 331.0,336.0 332.4,341.0 334.0,338.0 335.4,343.0 337.0,350.0 338.6,352.0 340.6,348.0 342.0,340.0 343.4,330.0 344.6,316.0 345.4,310.0 346.0,302.0 348.0,299.0 349.6,301.0 351.0,308.0 352.4,316.0 354.0,323.0 355.6,320.0 357.6,310.0 360.0,301.0 362.0,297.0 363.6,296.0 365.0,299.0 367.0,303.0 369.0,305.0 371.0,304.0 373.0,305.0 374.4,309.0 376.0,307.0 378.0,302.0 380.0,297.0 382.0,288.0 385.0,278.0 387.0,270.0 389.0,265.0 392.0,262.4 394.0,264.0 396.0,268.0 399.0,269.0 402.0,268.0 405.0,266.0 408.0,269.0 410.4,271.0 412.4,264.0 414.0,246.0 415.4,226.0 417.0,218.0 419.0,216.0 421.0,221.0 423.0,224.0 425.0,220.0 427.6,215.0 430.0,212.0 432.0,216.0 434.0,222.0 436.0,220.0 437.6,212.0 439.0,204.0 440.0,194.0 441.4,184.0 443.0,181.0 445.0,184.0 447.0,194.0 449.0,200.0 451.0,203.0 454.0,204.0 457.0,204.0 459.0,207.0 460.0,209.0 462.0,214.0 464.4,217.0 467.0,215.0 470.0,214.4 473.0,213.0 476.0,209.0 478.0,205.0 480.0,200.0 481.0,198.0 483.0,190.0 485.0,184.0 487.0,181.0 489.0,181.0 491.0,185.0 494.0,187.0 496.0,186.0 498.0,180.0 500.0,174.0 502.0,168.0 504.0,160.0 507.0,157.0 509.0,156.0 511.0,150.0 513.0,145.0 515.0,140.0 517.0,133.0 519.0,127.0 521.0,124.4 523.6,123.6 526.0,125.6 529.0,129.0 532.0,132.0 534.0,137.0 536.0,142.0 537.6,140.0 539.0,132.0 541.0,126.0 543.0,124.4 545.6,126.0 548.0,131.0 550.4,133.0 553.0,132.0 555.0,124.0 556.4,116.0 557.0,108.0 559.0,100.0 561.0,98.0 563.0,100.0 565.0,108.0 567.0,114.0 570.0,115.0 573.0,113.0 576.0,110.0 579.0,107.0 582.0,105.0 584.0,107.0 586.0,113.0 588.0,122.0 590.0,128.0 592.4,133.0 595.0,133.6 598.0,133.0 601.0,132.4 604.0,134.0 607.0,136.0 609.0,130.0 611.0,120.0 613.0,110.0 615.0,98.0 616.0,92.0 617.0,85.0 618.0,79.0 619.0,72.0 621.0,60.0 623.0,54.0 625.4,46.0 628.0,42.0 630.0,41.0 632.0,46.0 634.0,51.0 636.0,48.0 637.4,36.0 639.0,20.0 641.0,8.0 642.0,3.0 643.0,-3.0 646.0,-8.0 650.0,-8.0 652.0,-3.0 653.0,3.0 654.6,12.0 656.0,24.0 657.0,32.0 659.0,33.0 661.0,40.0 663.0,48.0 664.6,56.0 666.0,61.0 668.0,62.0"/>
<polyline fill="none" stroke="#5C5CF7" stroke-width="1.1" stroke-linejoin="round" points="2.0,291.0 8.0,295.6 13.3,298.5 16.2,294.5 19.0,285.0 21.4,273.6 23.2,262.0 24.2,250.0 25.5,240.0 27.0,228.0 28.5,219.0 30.0,212.5 31.8,209.5 34.0,215.0 37.0,230.0 39.0,248.0 41.0,266.0 43.0,280.0 45.0,290.0 46.5,295.0 47.5,297.0 48.5,295.5 50.0,289.0 52.0,283.0 54.0,279.0 58.0,275.0 62.0,277.0 66.0,280.0 70.0,281.0 74.0,279.0 78.0,275.0 82.0,272.0 86.0,269.0 90.0,266.0 93.0,264.0 96.0,266.0 99.0,272.0 102.0,282.0 106.0,292.0 108.0,302.0 110.0,309.0 112.0,312.0 115.0,310.0 118.0,308.0 121.0,305.0 123.0,308.0 126.0,312.0 129.0,315.0 131.6,316.0 134.0,312.0 137.0,304.0 140.0,294.0 142.0,290.0 144.0,285.0 146.0,275.0 148.0,265.0 150.0,256.0 152.0,247.0 154.0,237.0 156.0,232.0 158.0,229.5 160.0,230.0 162.0,231.5 164.0,233.5 166.0,236.0 168.0,238.0 170.0,238.8 172.0,238.0 174.0,236.0 176.0,233.5 178.0,230.5 180.0,227.5 182.0,225.0 184.0,223.5 186.0,223.5 187.5,225.0 189.0,229.0 190.5,234.0 192.0,237.0 194.0,241.0 195.5,247.0 197.0,251.0 198.5,252.8 200.0,252.0 202.0,248.0 204.0,244.0 206.0,240.0 208.5,235.0 209.0,231.0 211.0,229.5 213.0,229.5 215.0,230.0 217.0,231.5 219.0,234.0 221.0,240.0 223.0,248.0 225.0,257.0 226.5,266.0 228.0,275.0 229.5,283.0 230.8,290.0 232.5,299.0 234.0,303.0 236.6,304.4 238.6,300.0 240.6,293.0 243.0,289.0 246.0,290.0 249.0,294.0 252.0,298.0 255.0,296.6 258.0,295.0 261.0,294.4 264.0,295.0 267.0,297.0 270.0,296.0 273.0,297.0 277.0,299.0 281.0,300.0 284.0,299.6 287.0,298.0 289.0,300.0 291.0,304.0 293.0,309.0 295.0,314.0 298.0,317.0 301.0,321.0 303.0,322.0 305.0,320.0 308.0,318.0 311.0,316.0 313.0,316.0 315.4,318.0 317.0,325.0 319.0,334.0 321.0,344.0 323.0,353.0 325.0,359.0 327.0,362.4 329.0,364.0 331.0,362.4 332.4,365.0 334.0,370.0 335.4,374.0 338.0,373.0 341.0,370.0 344.0,364.0 346.0,356.0 348.0,344.0 350.0,336.0 352.0,332.0 355.0,328.0 358.0,324.0 361.0,319.0 364.0,315.0 367.0,314.0 370.0,315.0 373.0,314.0 376.0,311.0 379.0,308.0 382.0,304.0 385.0,299.5 388.0,292.5 391.0,286.0 394.0,281.0 397.0,278.0 400.0,277.0 403.0,278.0 406.0,278.0 409.0,277.0 412.0,274.0 415.0,268.0 418.0,260.0 421.0,254.0 424.0,250.0 427.0,247.0 430.0,243.0 433.0,238.0 436.0,233.0 439.0,228.0 442.0,222.0 445.0,216.0 448.0,213.0 451.0,214.0 454.0,216.0 457.0,218.4 460.0,220.0 463.0,220.0 466.0,219.6 470.0,218.0 474.0,216.0 478.0,213.0 482.0,208.0 485.0,203.5 487.0,200.5 490.0,196.0 493.0,193.0 496.0,190.0 499.0,186.0 502.0,181.0 505.0,177.0 508.0,173.0 511.0,170.0 514.0,167.0 517.0,163.0 520.0,158.0 522.4,153.0 525.0,150.0 528.0,151.0 531.0,156.0 533.0,161.0 535.0,164.0 538.0,163.0 541.0,159.0 544.0,154.5 548.0,149.0 552.0,144.0 555.0,140.0 557.0,135.0 559.0,130.0 561.0,124.0 563.0,121.0 565.0,120.0 567.5,120.5 570.0,121.3 574.0,123.0 578.0,126.0 582.0,130.0 586.0,134.0 590.0,138.0 595.0,142.0 600.0,145.5 604.0,147.5 608.0,148.5 610.0,146.0 612.0,140.0 616.0,124.0 619.0,110.0 621.5,100.0 624.5,90.0 627.5,81.0 630.0,74.0 633.0,69.0 636.0,64.0 639.0,56.0 641.0,48.0 643.0,40.0 645.4,36.0 648.0,35.6 650.6,39.0 653.0,45.0 655.0,51.0 657.0,57.0 659.0,61.0 661.0,65.0 663.0,68.0 665.4,69.6 668.0,69.6"/>
<polyline fill="none" stroke="#5C5CF7" stroke-width="1.1" stroke-linejoin="round" points="2.0,300.0 4.0,310.0 6.0,313.0 10.0,311.0 14.0,310.0 15.6,304.0 17.0,314.0 19.0,328.0 21.0,340.0 23.0,349.0 24.4,351.6 25.6,340.0 27.0,320.0 28.4,300.0 29.6,280.0 30.5,260.0 31.3,244.0 32.0,236.0 33.0,240.0 34.5,252.0 36.0,268.0 37.0,280.0 37.6,300.0 38.4,330.0 39.6,356.0 41.0,374.0 42.4,379.6 44.0,378.0 45.6,366.0 47.6,356.0 49.0,355.0 50.0,340.0 52.0,320.0 54.0,306.0 57.0,294.0 60.0,289.0 62.0,290.0 63.6,298.0 66.0,301.6 70.0,301.0 72.4,300.0 74.0,292.0 76.0,284.0 79.0,281.0 82.0,285.0 85.0,283.0 88.0,281.0 91.0,280.0 93.0,288.0 96.0,292.0 98.0,300.0 100.0,320.0 101.0,336.0 102.4,348.0 104.4,348.4 106.0,345.0 108.0,340.0 109.6,329.0 112.0,327.0 114.0,328.0 116.0,335.0 118.0,338.0 121.0,335.0 123.0,338.0 124.0,350.0 125.6,362.0 128.0,361.0 131.0,359.0 133.0,357.0 134.4,346.0 136.0,334.0 138.0,331.0 140.0,325.0 142.0,322.0 144.4,322.4 146.0,318.0 148.0,310.0 150.0,298.0 151.5,285.0 153.0,275.0 155.0,263.0 157.0,251.0 158.5,245.0 159.5,244.2 161.0,247.0 163.0,251.0 165.0,253.0 166.5,253.5 168.0,249.0 169.5,245.0 171.0,244.5 172.2,246.5 173.5,252.0 174.5,255.5 175.5,256.5 176.5,255.0 178.0,251.0 180.0,244.0 182.0,238.0 183.5,234.5 185.0,234.5 186.0,235.0 187.5,238.0 188.5,245.0 189.2,255.0 190.0,268.0 190.8,278.0 191.5,285.0 192.3,294.0 193.0,297.0 194.6,292.0 196.0,287.0 197.5,285.0 198.5,279.0 200.0,277.0 201.0,274.0 202.0,267.0 203.0,261.0 204.0,259.0 205.0,258.5 206.0,261.0 206.8,262.5 207.8,260.0 209.0,255.0 210.0,250.0 211.2,246.0 212.2,245.0 213.5,247.5 215.0,249.0 216.2,250.0 217.5,249.0 218.5,248.5 219.5,251.0 220.5,259.0 221.2,268.0 222.0,278.0 222.8,290.0 223.8,305.0 224.6,318.0 225.4,326.0 226.6,344.0 227.6,352.0 230.0,350.0 232.0,347.0 234.0,338.0 236.0,332.0 237.4,331.0 239.0,335.0 241.0,328.0 242.6,317.0 244.6,316.0 247.0,319.0 249.0,321.0 251.0,316.0 253.0,308.0 255.0,304.0 258.0,303.6 261.0,301.0 263.0,302.0 265.0,307.0 267.0,310.0 270.0,311.0 273.0,311.0 276.0,309.0 278.6,305.0 281.0,306.0 284.0,309.0 287.0,313.0 289.0,316.0 290.6,322.0 292.0,334.0 293.6,346.0 295.4,352.0 297.0,348.0 298.6,340.0 300.6,332.0 302.6,328.0 305.0,330.0 307.0,329.0 309.0,334.0 312.0,335.0 314.0,333.0 315.0,340.0 315.8,356.0 316.6,372.0 318.0,386.0 319.4,398.0 320.6,404.0 322.0,412.0 324.0,412.0 325.0,404.0 326.0,394.0 328.0,396.0 330.0,393.0 332.0,386.0 333.0,394.0 334.0,404.0 335.0,408.0 336.0,399.0 338.0,397.6 340.0,400.0 342.0,404.0 344.0,412.0 346.0,420.0 347.5,410.0 348.4,390.0 349.6,370.0 351.0,350.0 352.4,340.0 354.0,336.4 355.6,339.0 357.6,343.0 360.0,346.0 362.0,344.0 364.0,336.0 366.0,327.0 368.0,323.0 370.4,322.0 373.0,325.0 375.0,323.0 378.0,326.0 380.4,327.0 382.4,329.0 384.4,325.0 386.4,321.0 388.0,324.0 390.0,318.0 392.0,310.0 394.0,302.0 396.0,293.0 397.0,290.0 399.0,286.0 402.0,287.0 405.0,289.0 408.0,288.0 410.4,288.0 411.0,290.0 413.0,298.0 415.0,306.0 416.4,310.6 418.0,308.0 419.6,302.0 421.0,295.0 422.0,290.0 423.0,280.0 425.0,278.0 427.0,281.0 429.0,282.0 431.0,274.0 432.4,260.0 434.0,254.0 436.0,255.0 438.0,260.0 440.0,265.0 442.0,267.0 443.6,262.0 445.0,246.0 446.6,230.0 448.4,223.0 451.0,221.0 453.0,224.0 455.0,230.0 457.0,232.0 460.0,230.0 463.0,228.0 466.0,227.0 469.0,229.6 472.0,230.0 475.0,231.0 478.0,232.0 480.4,234.0 482.4,235.0 484.4,231.0 487.0,224.0 489.0,216.0 491.0,209.5 493.0,204.0 496.0,201.6 499.0,203.0 502.0,205.0 504.0,204.0 506.0,200.0 508.0,194.0 510.0,190.0 512.0,187.0 514.4,186.0 517.0,187.0 519.0,185.6 521.0,183.0 523.0,178.0 525.0,173.0 527.0,172.0 529.0,176.0 531.0,184.0 532.4,190.0 534.4,187.0 537.0,188.0 539.6,191.0 541.6,192.0 543.0,186.0 544.4,174.0 546.4,164.0 549.0,157.0 551.6,155.6 554.0,157.0 556.0,164.0 558.0,168.0 560.0,164.0 561.6,150.0 563.0,138.0 565.0,129.0 568.0,130.0 572.0,132.0 576.0,133.0 579.0,138.0 581.0,146.0 583.0,151.0 586.0,153.0 590.0,151.0 594.0,150.0 597.0,153.0 600.0,156.0 604.0,157.0 607.0,155.0 609.0,158.0 611.0,162.0 613.0,166.0 615.0,172.0 617.0,174.0 619.0,171.0 621.0,164.0 622.4,156.0 624.0,144.0 626.0,130.0 627.0,118.0 629.0,103.0 631.0,91.0 633.0,83.0 635.0,80.0 636.5,81.0 637.5,86.0 639.0,93.5 640.8,96.5 642.5,92.0 644.0,84.0 645.0,78.0 647.0,75.0 649.0,76.0 651.0,80.0 653.0,84.0 654.6,86.0 656.0,85.0 657.4,82.0 659.0,86.0 660.6,88.0 662.6,85.0 664.6,80.0 666.6,78.4 668.0,79.0"/>
</g>
<polygon fill="#FEB411" points="308.62,304.29 322.96,292.01 337.29,279.72 351.63,267.44 365.96,255.16 380.31,242.88 394.65,230.60 408.99,218.33 423.34,206.06 437.69,193.79 452.04,181.53 466.39,169.26 480.74,157.00 495.10,144.74 509.46,132.48 523.82,120.23 538.18,107.98 552.54,95.73 566.91,83.48 581.28,71.23 595.65,58.99 610.02,46.75 624.40,34.51 638.77,22.28 653.15,10.04 654.05,11.09 656.70,4.20 649.49,5.78 650.39,6.83 636.14,19.21 621.88,31.59 607.63,43.97 593.37,56.34 579.11,68.71 564.85,81.08 550.58,93.44 536.31,105.81 522.05,118.17 507.78,130.53 493.50,142.88 479.23,155.24 464.95,167.59 450.67,179.94 436.39,192.29 422.11,204.63 407.82,216.97 393.54,229.31 379.25,241.65 364.96,253.99 350.67,266.32 336.37,278.65 322.07,290.98 307.78,303.31"/>
<polygon fill="#FEB411" points="335.12,391.39 350.69,378.00 366.26,364.62 381.82,351.23 397.40,337.85 412.97,324.48 428.54,311.10 444.12,297.73 459.70,284.36 475.29,270.99 490.87,257.62 506.46,244.26 522.05,230.90 537.64,217.54 553.23,204.19 568.83,190.84 584.43,177.49 600.03,164.14 615.63,150.80 631.23,137.45 646.84,124.12 662.45,110.78 678.06,97.45 693.68,84.11 709.29,70.79 710.23,71.87 712.80,64.90 705.53,66.42 706.46,67.50 690.98,80.99 675.50,94.47 660.01,107.95 644.52,121.43 629.03,134.90 613.54,148.37 598.04,161.84 582.54,175.31 567.04,188.77 551.54,202.23 536.04,215.69 520.53,229.14 505.02,242.60 489.51,256.05 474.00,269.50 458.48,282.94 442.96,296.38 427.44,309.82 411.92,323.26 396.40,336.69 380.87,350.13 365.34,363.56 349.81,376.98 334.28,390.41"/>
<g fill="#6E6EE6">
<rect x="2" y="2" width="835" height="1"/>
<rect x="2" y="2" width="1" height="487"/>
<rect x="836" y="2" width="1" height="487"/>
<rect x="2" y="488" width="835" height="1"/>
<rect x="2" y="403.5" width="835" height="1.9"/>
</g>
<g fill="#2B2BD6" stroke="#2B2BD6" stroke-width="0.22" font-size="6.2px">
<rect x="837" y="9.5" width="1.6" height="1" fill="#6E6EE6" stroke="none"/>
<text x="839.7" y="12.2" textLength="20" lengthAdjust="spacingAndGlyphs">13215.85</text>
<rect x="837" y="27.3" width="1.6" height="1" fill="#6E6EE6" stroke="none"/>
<text x="839.7" y="30.0" textLength="20" lengthAdjust="spacingAndGlyphs">13183.55</text>
<rect x="837" y="45.2" width="1.6" height="1" fill="#6E6EE6" stroke="none"/>
<text x="839.7" y="47.9" textLength="20" lengthAdjust="spacingAndGlyphs">13151.25</text>
<rect x="837" y="63.0" width="1.6" height="1" fill="#6E6EE6" stroke="none"/>
<text x="839.7" y="65.7" textLength="20" lengthAdjust="spacingAndGlyphs">13118.95</text>
<rect x="837" y="80.8" width="1.6" height="1" fill="#6E6EE6" stroke="none"/>
<text x="839.7" y="83.5" textLength="20" lengthAdjust="spacingAndGlyphs">13086.65</text>
<rect x="837" y="98.7" width="1.6" height="1" fill="#6E6EE6" stroke="none"/>
<text x="839.7" y="101.4" textLength="20" lengthAdjust="spacingAndGlyphs">13054.35</text>
<rect x="837" y="116.5" width="1.6" height="1" fill="#6E6EE6" stroke="none"/>
<text x="839.7" y="119.2" textLength="20" lengthAdjust="spacingAndGlyphs">13022.05</text>
<rect x="837" y="134.4" width="1.6" height="1" fill="#6E6EE6" stroke="none"/>
<text x="839.7" y="137.1" textLength="20" lengthAdjust="spacingAndGlyphs">12988.80</text>
<rect x="837" y="152.2" width="1.6" height="1" fill="#6E6EE6" stroke="none"/>
<text x="839.7" y="154.9" textLength="20" lengthAdjust="spacingAndGlyphs">12956.50</text>
<rect x="837" y="170.0" width="1.6" height="1" fill="#6E6EE6" stroke="none"/>
<text x="839.7" y="172.7" textLength="20" lengthAdjust="spacingAndGlyphs">12924.20</text>
<rect x="837" y="187.9" width="1.6" height="1" fill="#6E6EE6" stroke="none"/>
<text x="839.7" y="190.6" textLength="20" lengthAdjust="spacingAndGlyphs">12891.90</text>
<rect x="837" y="205.7" width="1.6" height="1" fill="#6E6EE6" stroke="none"/>
<text x="839.7" y="208.4" textLength="20" lengthAdjust="spacingAndGlyphs">12859.60</text>
<rect x="837" y="223.5" width="1.6" height="1" fill="#6E6EE6" stroke="none"/>
<text x="839.7" y="226.2" textLength="20" lengthAdjust="spacingAndGlyphs">12827.30</text>
<rect x="837" y="241.4" width="1.6" height="1" fill="#6E6EE6" stroke="none"/>
<text x="839.7" y="244.1" textLength="20" lengthAdjust="spacingAndGlyphs">12795.00</text>
<rect x="837" y="259.2" width="1.6" height="1" fill="#6E6EE6" stroke="none"/>
<text x="839.7" y="261.9" textLength="20" lengthAdjust="spacingAndGlyphs">12762.70</text>
<rect x="837" y="277.0" width="1.6" height="1" fill="#6E6EE6" stroke="none"/>
<text x="839.7" y="279.7" textLength="20" lengthAdjust="spacingAndGlyphs">12729.45</text>
<rect x="837" y="294.9" width="1.6" height="1" fill="#6E6EE6" stroke="none"/>
<text x="839.7" y="297.6" textLength="20" lengthAdjust="spacingAndGlyphs">12697.15</text>
<rect x="837" y="312.7" width="1.6" height="1" fill="#6E6EE6" stroke="none"/>
<text x="839.7" y="315.4" textLength="20" lengthAdjust="spacingAndGlyphs">12664.85</text>
<rect x="837" y="330.6" width="1.6" height="1" fill="#6E6EE6" stroke="none"/>
<text x="839.7" y="333.3" textLength="20" lengthAdjust="spacingAndGlyphs">12632.55</text>
<rect x="837" y="348.4" width="1.6" height="1" fill="#6E6EE6" stroke="none"/>
<text x="839.7" y="351.1" textLength="20" lengthAdjust="spacingAndGlyphs">12600.25</text>
<rect x="837" y="366.2" width="1.6" height="1" fill="#6E6EE6" stroke="none"/>
<text x="839.7" y="368.9" textLength="20" lengthAdjust="spacingAndGlyphs">12567.95</text>
<rect x="837" y="384.1" width="1.6" height="1" fill="#6E6EE6" stroke="none"/>
<text x="839.7" y="386.8" textLength="20" lengthAdjust="spacingAndGlyphs">12535.65</text>
<rect x="837" y="401.9" width="1.6" height="1" fill="#6E6EE6" stroke="none"/>
<text x="839.7" y="404.6" textLength="20" lengthAdjust="spacingAndGlyphs">12503.35</text>
</g>
<rect x="837" y="65.8" width="25.2" height="6.2" fill="#0808c8"/>
<text x="839.7" y="71.1" font-size="6.2px" fill="#ffffff" textLength="20" lengthAdjust="spacingAndGlyphs">13108.98</text>
<g fill="#2B2BD6" stroke="#2B2BD6" stroke-width="0.22" font-size="6.2px">
<text x="838.7" y="411.4" textLength="7.6" lengthAdjust="spacingAndGlyphs">100</text>
<text x="838.7" y="424.8" textLength="5.2" lengthAdjust="spacingAndGlyphs">80</text>
<text x="838.7" y="473.9" textLength="5.2" lengthAdjust="spacingAndGlyphs">20</text>
<text x="838.7" y="486.7" textLength="2.6" lengthAdjust="spacingAndGlyphs">0</text>
</g>
<polygon fill="#1010c4" points="4.5,5.8 8.5,5.8 6.5,8.4"/>
<g fill="#2B2BD6" stroke="#2B2BD6" stroke-width="0.22" font-size="6.2px">
<text x="10.7" y="9.2" textLength="30.5" lengthAdjust="spacingAndGlyphs">NAS100,M15</text>
<text x="44.4" y="9.2" textLength="20.4" lengthAdjust="spacingAndGlyphs">13102.23</text>
<text x="66.5" y="9.2" textLength="20.4" lengthAdjust="spacingAndGlyphs">13109.98</text>
<text x="88.7" y="9.2" textLength="20.4" lengthAdjust="spacingAndGlyphs">13101.48</text>
<text x="110.8" y="9.2" textLength="20.4" lengthAdjust="spacingAndGlyphs">13108.98</text>
<text x="5.2" y="411.6" textLength="65.6" lengthAdjust="spacingAndGlyphs">Stoch(5,3,3) 65.0190 52.7596</text>
</g>
<g fill="#2B2BD6" stroke="#2B2BD6" stroke-width="0.22" font-size="6.2px">
<rect x="2.1" y="489" width="1" height="2" fill="#6E6EE6" stroke="none"/>
<text x="2.6" y="496.2" textLength="27.8" lengthAdjust="spacingAndGlyphs">23 Mar 2023</text>
<rect x="36.6" y="489" width="1" height="2" fill="#6E6EE6" stroke="none"/>
<text x="37.1" y="496.2" textLength="29.2" lengthAdjust="spacingAndGlyphs">23 Mar 21:15</text>
<rect x="71.2" y="489" width="1" height="2" fill="#6E6EE6" stroke="none"/>
<text x="71.7" y="496.2" textLength="29.2" lengthAdjust="spacingAndGlyphs">24 Mar 06:15</text>
<rect x="105.7" y="489" width="1" height="2" fill="#6E6EE6" stroke="none"/>
<text x="106.2" y="496.2" textLength="29.2" lengthAdjust="spacingAndGlyphs">24 Mar 14:15</text>
<rect x="140.3" y="489" width="1" height="2" fill="#6E6EE6" stroke="none"/>
<text x="140.8" y="496.2" textLength="29.2" lengthAdjust="spacingAndGlyphs">24 Mar 22:15</text>
<rect x="174.8" y="489" width="1" height="2" fill="#6E6EE6" stroke="none"/>
<text x="175.3" y="496.2" textLength="29.2" lengthAdjust="spacingAndGlyphs">27 Mar 07:15</text>
<rect x="209.4" y="489" width="1" height="2" fill="#6E6EE6" stroke="none"/>
<text x="209.9" y="496.2" textLength="29.2" lengthAdjust="spacingAndGlyphs">27 Mar 15:15</text>
<rect x="243.9" y="489" width="1" height="2" fill="#6E6EE6" stroke="none"/>
<text x="244.4" y="496.2" textLength="29.2" lengthAdjust="spacingAndGlyphs">27 Mar 23:15</text>
<rect x="278.5" y="489" width="1" height="2" fill="#6E6EE6" stroke="none"/>
<text x="279.0" y="496.2" textLength="29.2" lengthAdjust="spacingAndGlyphs">28 Mar 08:15</text>
<rect x="313.1" y="489" width="1" height="2" fill="#6E6EE6" stroke="none"/>
<text x="313.6" y="496.2" textLength="29.2" lengthAdjust="spacingAndGlyphs">28 Mar 16:15</text>
<rect x="347.6" y="489" width="1" height="2" fill="#6E6EE6" stroke="none"/>
<text x="348.1" y="496.2" textLength="29.2" lengthAdjust="spacingAndGlyphs">29 Mar 01:15</text>
<rect x="382.1" y="489" width="1" height="2" fill="#6E6EE6" stroke="none"/>
<text x="382.6" y="496.2" textLength="29.2" lengthAdjust="spacingAndGlyphs">29 Mar 09:15</text>
<rect x="416.7" y="489" width="1" height="2" fill="#6E6EE6" stroke="none"/>
<text x="417.2" y="496.2" textLength="29.2" lengthAdjust="spacingAndGlyphs">29 Mar 17:15</text>
<rect x="451.2" y="489" width="1" height="2" fill="#6E6EE6" stroke="none"/>
<text x="451.8" y="496.2" textLength="29.2" lengthAdjust="spacingAndGlyphs">30 Mar 02:15</text>
<rect x="485.8" y="489" width="1" height="2" fill="#6E6EE6" stroke="none"/>
<text x="486.3" y="496.2" textLength="29.2" lengthAdjust="spacingAndGlyphs">30 Mar 10:15</text>
<rect x="520.4" y="489" width="1" height="2" fill="#6E6EE6" stroke="none"/>
<text x="520.9" y="496.2" textLength="29.2" lengthAdjust="spacingAndGlyphs">30 Mar 18:15</text>
<rect x="554.9" y="489" width="1" height="2" fill="#6E6EE6" stroke="none"/>
<text x="555.4" y="496.2" textLength="29.2" lengthAdjust="spacingAndGlyphs">31 Mar 03:15</text>
<rect x="589.4" y="489" width="1" height="2" fill="#6E6EE6" stroke="none"/>
<text x="589.9" y="496.2" textLength="29.2" lengthAdjust="spacingAndGlyphs">31 Mar 11:15</text>
<rect x="624.0" y="489" width="1" height="2" fill="#6E6EE6" stroke="none"/>
<text x="624.5" y="496.2" textLength="29.2" lengthAdjust="spacingAndGlyphs">31 Mar 19:15</text>
<rect x="658.5" y="489" width="1" height="2" fill="#6E6EE6" stroke="none"/>
<text x="659.0" y="496.2" textLength="26.0" lengthAdjust="spacingAndGlyphs">3 Apr 04:15</text>
</g>
<g clip-path="url(#cs)">
<line x1="3" y1="422.4" x2="836" y2="422.4" stroke="#c9c7c7" stroke-width="1" stroke-dasharray="1.4 2.1"/>
<line x1="3" y1="472.2" x2="836" y2="472.2" stroke="#c9c7c7" stroke-width="1" stroke-dasharray="1.4 2.1"/>
<polyline fill="none" stroke="#f64848" stroke-width="1.05" stroke-dasharray="1.1 1.35" points="3.8,460.0 4.8,462.3 5.9,460.4 7.0,454.9 8.1,444.0 9.1,435.6 10.2,433.2 11.3,437.2 12.4,441.9 13.5,444.0 14.5,442.6 15.6,439.6 16.7,435.1 17.8,429.2 18.9,422.5 19.9,417.7 21.0,415.3 22.1,414.5 23.2,414.1 24.3,413.6 25.3,414.9 26.4,420.2 27.5,430.5 28.6,443.2 29.7,453.3 30.7,459.3 31.8,462.6 32.9,466.0 34.0,469.4 35.1,470.2 36.1,469.7 37.2,469.7 38.3,473.5 39.4,478.2 40.5,480.0 41.5,476.1 42.6,467.8 43.7,458.1 44.8,449.8 45.9,443.6 46.9,440.0 48.0,437.8 49.1,436.7 50.2,436.9 51.3,440.4 52.3,447.8 53.4,456.6 54.5,462.2 55.6,459.0 56.7,447.7 57.7,433.5 58.8,427.7 59.9,431.6 61.0,443.0 62.1,454.8 63.1,464.7 64.2,469.5 65.3,467.9 66.4,459.4 67.5,448.0 68.5,437.2 69.6,430.6 70.7,429.4 71.8,434.3 72.8,440.6 73.9,443.0 75.0,439.7 76.1,436.6 77.2,437.5 78.2,441.6 79.3,444.0 80.4,442.6 81.5,436.5 82.6,428.9 83.6,426.2 84.7,429.5 85.8,437.9 86.9,446.7 88.0,455.1 89.0,460.5 90.1,456.8 91.2,445.6 92.3,430.9 93.4,428.1 94.4,436.0 95.5,450.6 96.6,460.0 97.7,462.6 98.8,460.8 99.8,462.2 100.9,468.0 102.0,476.7 103.1,480.0 104.2,476.1 105.2,466.7 106.3,455.6 107.4,446.8 108.5,444.0 109.6,446.4 110.6,451.8 111.7,454.3 112.8,451.3 113.9,443.4 115.0,433.0 116.0,424.1 117.1,422.2 118.2,426.3 119.3,431.9 120.4,432.0 121.4,432.7 122.5,437.4 123.6,447.3 124.7,457.0 125.8,464.0 126.8,463.9 127.9,457.1 129.0,449.8 130.1,447.2 131.2,447.7 132.2,446.8 133.3,443.4 134.4,439.5 135.5,435.8 136.6,433.1 137.6,430.1 138.7,426.3 139.8,423.8 140.9,423.4 141.9,425.2 143.0,425.4 144.1,423.2 145.2,419.4 146.3,415.1 147.3,412.0 148.4,409.8 149.5,409.2 150.6,409.6 151.7,410.6 152.7,411.9 153.8,413.6 154.9,416.6 156.0,421.6 157.1,429.4 158.1,440.8 159.2,453.4 160.3,464.6 161.4,470.1 162.5,470.5 163.5,466.4 164.6,461.6 165.7,457.6 166.8,455.6 167.9,452.8 168.9,447.8 170.0,439.9 171.1,432.1 172.2,426.1 173.3,423.1 174.3,422.5 175.4,423.6 176.5,427.6 177.6,435.0 178.7,445.0 179.7,452.7 180.8,453.9 181.9,447.8 183.0,438.9 184.1,435.5 185.1,440.6 186.2,451.8 187.3,463.2 188.4,471.8 189.5,477.2 190.5,479.7 191.6,479.4 192.7,473.9 193.8,463.0 194.9,448.5 195.9,434.9 197.0,426.5 198.1,424.6 199.2,427.3 200.3,429.8 201.3,430.8 202.4,430.8 203.5,431.1 204.6,431.0 205.7,429.7 206.7,427.2 207.8,426.0 208.9,427.8 210.0,433.7 211.0,442.7 212.1,453.8 213.2,465.3 214.3,469.7 215.4,465.4 216.4,454.0 217.5,444.4 218.6,440.0 219.7,444.8 220.8,454.9 221.8,466.8 222.9,473.3 224.0,475.2 225.1,474.0 226.2,473.6 227.2,473.9 228.3,472.9 229.4,468.5 230.5,463.2 231.6,458.4 232.6,453.4 233.7,446.0 234.8,437.8 235.9,430.9 237.0,426.9 238.0,423.6 239.1,420.7 240.2,420.1 241.3,424.5 242.4,434.6 243.4,447.0 244.5,457.0 245.6,458.8 246.7,453.9 247.8,445.8 248.8,440.5 249.9,439.4 251.0,444.2 252.1,445.4 253.2,440.3 254.2,428.2 255.3,420.7 256.4,420.4 257.5,426.7 258.6,436.9 259.6,448.2 260.7,458.2 261.8,463.7 262.9,465.3 264.0,466.6 265.0,469.9 266.1,475.4 267.2,478.0 268.3,474.4 269.4,462.7 270.4,445.3 271.5,428.2 272.6,419.0 273.7,420.7 274.8,430.7 275.8,443.5 276.9,456.0 278.0,465.6 279.1,469.3 280.1,466.9 281.2,459.8 282.3,450.7 283.4,440.4 284.5,430.3 285.5,422.4 286.6,418.7 287.7,421.4 288.8,431.7 289.9,446.8 290.9,462.1 292.0,472.7 293.1,477.9 294.2,478.6 295.3,475.6 296.3,467.8 297.4,456.2 298.5,443.4 299.6,436.9 300.7,438.2 301.7,444.7 302.8,450.3 303.9,450.8 305.0,444.4 306.1,433.1 307.1,422.2 308.2,416.8 309.3,416.0 310.4,419.9 311.5,428.2 312.5,441.5 313.6,453.8 314.7,461.8 315.8,465.4 316.9,468.2 317.9,469.1 319.0,469.0 320.1,468.4 321.2,471.1 322.3,470.8 323.3,464.3 324.4,451.2 325.5,438.5 326.6,432.5 327.7,435.4 328.7,444.9 329.8,455.1 330.9,460.6 332.0,460.8 333.1,461.0 334.1,463.3 335.2,466.2 336.3,463.6 337.4,454.1 338.5,441.0 339.5,429.6 340.6,423.0 341.7,420.2 342.8,418.6 343.9,417.2 344.9,415.7 346.0,414.6 347.1,414.2 348.2,414.4 349.2,416.2 350.3,422.3 351.4,435.5 352.5,452.8 353.6,465.1 354.6,462.4 355.7,446.1 356.8,426.7 357.9,415.3 359.0,412.3 360.0,413.2 361.1,414.0 362.2,414.8 363.3,417.3 364.4,423.0 365.4,433.4 366.5,447.5 367.6,461.7 368.7,472.0 369.8,476.8 370.8,477.7 371.9,474.5 373.0,465.6 374.1,452.4 375.2,438.9 376.2,428.6 377.3,422.2 378.4,419.4 379.5,419.0 380.6,418.6 381.6,417.1 382.7,415.4 383.8,415.4 384.9,418.1 386.0,420.8 387.0,421.8 388.1,419.9 389.2,420.1 390.3,423.4 391.4,429.8 392.4,436.3 393.5,441.9 394.6,445.0 395.7,444.0 396.8,438.3 397.8,431.5 398.9,426.6 400.0,426.6 401.1,432.6 402.2,444.0 403.2,457.2 404.3,468.1 405.4,472.4 406.5,469.4 407.6,458.7 408.6,446.6 409.7,440.3 410.8,442.0 411.9,444.1 413.0,439.9 414.0,429.9 415.1,420.4 416.2,415.4 417.3,416.5 418.3,424.2 419.4,437.5 420.5,453.1 421.6,464.9 422.7,467.1 423.7,458.0 424.8,442.0 425.9,426.3 427.0,416.2 428.1,413.4 429.1,420.2 430.2,431.0 431.3,437.2 432.4,434.7 433.5,432.7 434.5,437.3 435.6,442.7 436.7,440.1 437.8,430.4 438.9,420.3 439.9,413.6 441.0,411.0 442.1,412.7 443.2,418.7 444.3,428.9 445.3,442.4 446.4,454.8 447.5,461.6 448.6,460.5 449.7,455.6 450.7,454.2 451.8,456.9 452.9,462.3 454.0,466.7 455.1,471.0 456.1,473.2 457.2,471.3 458.3,464.3 459.4,454.8 460.5,445.6 461.5,439.5 462.6,436.5 463.7,435.6 464.8,434.7 465.9,433.1 466.9,434.1 468.0,441.4 469.1,455.5 470.2,468.5 471.3,471.6 472.3,463.0 473.4,447.6 474.5,431.8 475.6,420.3 476.7,415.4 477.7,415.7 478.8,419.8 479.9,423.4 481.0,424.1 482.1,421.3 483.1,416.7 484.2,414.7 485.3,415.4 486.4,418.1 487.4,419.9 488.5,420.8 489.6,421.7 490.7,423.3 491.8,427.1 492.8,433.8 493.9,443.4 495.0,449.3 496.1,446.5 497.2,437.4 498.2,428.7 499.3,425.0 500.4,423.7 501.5,422.3 502.6,419.6 503.6,416.8 504.7,414.7 505.8,414.2 506.9,415.9 508.0,421.4 509.0,428.1 510.1,431.1 511.2,430.1 512.3,428.1 513.4,427.5 514.4,428.4 515.5,431.2 516.6,437.2 517.7,440.2 518.8,436.5 519.8,431.5 520.9,428.7 522.0,431.2 523.1,435.0 524.2,442.4 525.2,451.6 526.3,460.7 527.4,467.2 528.5,469.7 529.6,467.3 530.6,463.1 531.7,459.7 532.8,458.4 533.9,455.6 535.0,448.7 536.0,438.6 537.1,429.1 538.2,423.0 539.3,420.6 540.4,419.7 541.4,419.0 542.5,417.9 543.6,416.5 544.7,415.6 545.8,418.9 546.8,428.8 547.9,444.2 549.0,458.5 550.1,464.6 551.2,458.9 552.2,445.7 553.3,431.4 554.4,421.5 555.5,415.3 556.5,411.9 557.6,410.6 558.7,411.0 559.8,412.8 560.9,416.4 561.9,423.0 563.0,433.0 564.1,445.1 565.2,456.8 566.3,466.4 567.3,473.5 568.4,478.0 569.5,477.6 570.6,468.9 571.7,452.1 572.7,432.9 573.8,420.3 574.9,419.1 576.0,429.0 577.1,445.2 578.1,461.3 579.2,472.4 580.3,476.9 581.4,476.9 582.5,475.4 583.5,474.7 584.6,474.1 585.7,472.7 586.8,469.0 587.9,461.9 588.9,452.9 590.0,446.2 591.1,446.7 592.2,452.6 593.3,459.3 594.3,457.7 595.4,447.8 596.5,435.6 597.6,432.9 598.7,442.5 599.7,457.4 600.8,467.4 601.9,467.3 603.0,458.0 604.1,444.1 605.1,431.7 606.2,429.7 607.3,437.2 608.4,449.4 609.5,453.2 610.5,449.1 611.6,441.3 612.7,436.0 613.8,432.9 614.9,429.2 615.9,425.0 617.0,420.9 618.1,418.0 619.2,416.4 620.3,417.1 621.3,420.1 622.4,421.1 623.5,419.0 624.6,414.1 625.6,411.0 626.7,409.8 627.8,411.3 628.9,416.4 630.0,425.9 631.0,437.6 632.1,447.0 633.2,449.8 634.3,446.4 635.4,439.6 636.4,432.6 637.5,425.8 638.6,420.2 639.7,418.8 640.8,420.6 641.8,421.9 642.9,419.3 644.0,415.1 645.1,413.5 646.2,418.9 647.2,433.9 648.3,453.6 649.4,466.6 650.5,467.5 651.6,460.7 652.6,455.2 653.7,456.0 654.8,461.7 655.9,468.0 657.0,469.9 658.0,465.3 659.1,456.3 660.2,447.0 661.3,443.3 662.4,446.4 663.4,453.9 664.5,458.1 665.6,457.5 666.7,451.8"/>
<polyline fill="none" stroke="#4cc2ba" stroke-width="0.8" stroke-linejoin="round" points="3.0,460.0 4.4,466.0 6.0,446.0 7.6,429.0 9.0,433.0 11.0,447.0 13.0,442.0 15.0,436.0 17.0,422.0 18.4,415.0 21.0,414.4 23.6,413.0 25.0,420.0 26.4,440.0 28.0,458.0 30.0,462.0 31.6,468.0 33.0,473.0 34.4,468.0 36.0,469.0 37.6,480.0 38.6,483.0 40.0,476.0 41.6,460.0 43.0,448.0 45.0,439.0 47.0,437.0 49.0,435.0 50.4,446.0 52.0,462.0 53.4,468.0 54.4,456.0 55.6,434.0 57.0,421.0 58.0,430.0 59.4,446.0 61.0,464.0 62.4,473.0 64.0,468.0 65.4,450.0 67.0,432.0 68.4,426.0 70.0,432.0 71.6,450.0 73.0,440.0 74.4,433.0 76.0,440.0 78.0,448.0 79.6,438.0 81.6,420.0 83.0,430.0 85.0,446.0 86.4,458.0 88.0,468.0 89.0,450.0 90.4,430.0 91.6,418.0 92.6,436.0 94.0,458.0 95.4,466.0 96.6,462.0 98.0,457.0 99.0,468.0 100.4,480.0 101.4,484.0 102.4,478.0 104.0,460.0 105.4,446.0 106.6,440.0 108.0,448.0 109.6,457.0 111.0,454.0 112.4,440.0 114.0,424.0 115.4,416.0 116.6,430.0 118.0,438.0 119.4,426.0 120.6,436.0 122.0,450.0 123.6,464.0 124.8,471.0 126.0,458.0 127.4,443.0 129.0,450.0 131.0,446.0 132.6,439.0 134.4,433.0 136.0,431.0 138.0,421.0 139.6,425.0 141.6,427.0 143.6,418.0 145.6,411.0 147.6,408.4 149.6,410.4 151.6,412.4 153.6,417.0 155.0,426.0 156.4,440.0 157.6,458.0 159.0,471.0 160.0,474.0 161.6,468.0 163.0,459.0 164.4,456.0 166.4,454.0 168.0,442.0 169.6,428.0 171.0,422.4 173.0,422.0 174.6,425.0 176.0,436.0 177.4,452.0 178.6,460.0 180.0,450.0 181.4,434.0 182.4,430.0 183.6,442.0 185.0,460.0 186.6,474.0 188.0,479.0 189.6,482.0 191.0,476.0 192.4,458.0 193.6,440.0 194.6,426.0 195.6,421.0 197.0,426.0 198.6,432.0 200.0,430.0 201.4,431.0 203.0,432.0 204.6,428.0 206.0,424.4 207.4,427.0 208.6,436.0 210.0,450.0 211.4,466.0 212.6,478.0 213.6,466.0 215.0,448.0 216.4,437.0 218.0,440.0 219.0,458.0 220.4,472.0 221.6,478.0 223.0,474.0 224.4,472.0 226.0,477.0 227.4,470.0 229.0,460.0 230.4,457.0 231.6,450.0 233.0,436.0 234.6,427.0 236.0,425.0 237.4,420.0 238.6,417.0 240.0,426.0 241.0,440.0 242.4,458.0 243.6,465.0 245.0,452.0 246.6,440.0 248.0,437.0 249.0,440.0 250.4,455.0 251.4,440.0 252.6,424.0 253.6,416.0 255.0,420.0 256.6,434.0 258.0,452.0 259.4,464.0 260.6,467.0 262.0,464.0 263.4,470.0 264.6,478.0 265.6,482.0 267.0,474.0 268.4,450.0 269.6,426.0 270.6,413.0 272.0,419.0 273.4,436.0 275.0,456.0 276.4,470.0 277.4,473.0 279.0,464.0 280.6,450.0 282.0,436.0 283.4,422.0 285.0,416.0 286.4,420.0 287.4,436.0 288.6,458.0 290.0,474.0 291.4,480.0 293.0,479.0 294.4,472.0 295.6,456.0 297.0,438.0 298.0,430.0 299.0,438.0 300.4,450.0 302.0,454.0 303.4,446.0 304.6,426.0 306.0,414.0 307.4,416.0 309.0,418.0 310.4,436.0 311.6,456.0 313.0,464.0 314.6,466.0 316.0,472.0 317.4,467.0 319.0,468.0 320.4,476.0 321.6,466.0 323.0,444.0 324.4,428.0 325.6,430.0 327.0,446.0 328.4,462.0 329.6,464.0 331.0,457.0 332.4,464.0 334.0,471.0 335.4,458.0 336.6,440.0 338.0,424.0 339.4,420.0 341.0,419.0 342.6,416.0 344.6,414.0 346.0,414.0 347.6,415.0 349.0,422.0 350.0,440.0 351.0,462.0 352.0,475.0 353.0,468.0 354.0,444.0 355.0,422.0 356.0,411.0 357.6,413.0 359.6,414.0 361.6,416.0 363.0,424.0 364.4,442.0 365.6,462.0 367.0,476.0 368.4,478.4 370.0,478.0 371.4,466.0 372.6,446.0 374.0,430.0 375.6,420.0 377.0,418.0 378.4,420.0 380.0,417.0 381.4,413.0 383.0,417.0 384.4,424.0 386.0,421.0 387.4,417.0 388.6,424.0 390.0,433.0 391.6,442.0 393.0,448.0 394.4,444.0 396.0,430.0 397.6,423.0 399.0,427.0 400.4,444.0 401.6,462.0 403.0,474.0 404.0,477.0 405.4,466.0 406.6,446.0 407.6,434.0 409.0,442.0 410.0,449.0 411.4,440.0 412.6,424.0 414.0,413.0 415.6,414.4 417.0,426.0 418.4,450.0 419.6,468.0 420.6,474.0 422.0,460.0 423.4,434.0 424.6,416.0 426.0,410.0 427.4,416.0 428.4,434.0 429.4,444.0 430.6,434.0 431.6,426.0 432.6,436.0 433.6,449.0 435.0,442.0 436.4,424.0 437.6,414.0 439.0,409.6 440.4,411.0 442.0,422.0 443.4,440.0 444.6,458.0 446.0,467.0 447.4,458.0 448.6,448.0 450.0,458.0 451.4,464.0 452.6,468.0 454.0,475.0 455.0,476.0 456.4,466.0 458.0,450.0 459.4,438.0 461.0,436.0 463.0,435.0 464.4,433.0 465.4,430.0 466.4,440.0 467.4,458.0 468.4,474.0 469.4,477.0 470.6,464.0 472.0,440.0 473.4,420.0 474.6,412.0 476.0,416.0 477.4,420.0 478.6,429.0 480.0,422.0 481.4,416.0 482.6,412.0 484.0,417.0 485.6,421.0 487.4,420.0 489.0,424.0 490.4,426.0 491.6,438.0 492.6,450.0 493.6,457.0 494.6,446.0 495.6,432.0 497.0,423.0 498.4,425.0 500.0,422.0 501.6,417.0 503.0,414.0 504.4,413.0 506.0,418.0 507.0,428.0 508.0,437.0 509.0,430.0 510.0,426.0 511.6,429.0 513.0,426.0 514.0,431.0 515.0,439.0 516.0,446.0 517.0,438.0 518.0,426.0 519.0,430.0 520.6,430.0 522.0,438.0 523.4,452.0 525.0,466.0 526.4,472.0 527.6,470.0 529.0,460.0 530.4,458.0 531.6,460.0 533.0,452.0 534.4,436.0 535.6,424.0 537.0,420.0 538.6,420.0 540.6,418.0 542.4,416.0 543.6,413.0 544.6,420.0 545.6,436.0 546.6,454.0 547.6,467.0 548.6,471.0 549.6,460.0 550.6,440.0 552.0,424.0 553.4,415.0 555.0,410.4 556.6,410.0 558.4,413.0 560.0,420.0 561.4,434.0 562.6,450.0 564.0,464.0 565.4,474.0 566.6,479.0 567.6,481.0 568.6,476.0 569.6,458.0 570.6,436.0 571.6,418.0 572.6,412.0 573.6,418.0 574.6,434.0 575.6,452.0 576.6,468.0 577.6,477.0 578.6,479.0 580.0,476.0 581.4,474.0 583.0,475.0 584.4,472.0 585.6,468.0 586.6,458.0 587.6,446.0 588.6,441.0 589.6,445.0 590.6,456.0 591.6,462.0 592.4,465.0 593.4,452.0 594.4,434.0 595.4,424.0 596.4,432.0 597.4,452.0 598.4,468.0 599.4,474.0 600.6,468.0 601.8,450.0 603.0,432.0 604.2,420.0 605.2,434.0 606.4,450.0 607.4,461.0 608.4,452.0 609.6,440.0 611.0,435.0 612.6,432.0 614.0,425.0 615.6,419.0 617.0,416.0 618.4,415.6 619.6,420.0 620.6,425.0 621.6,419.0 623.0,412.0 624.4,409.0 626.0,410.0 627.4,416.0 628.6,430.0 629.6,444.0 630.6,452.0 631.6,453.0 632.6,446.0 634.0,436.0 635.4,428.0 636.6,420.0 637.6,414.0 638.6,420.0 639.6,426.0 641.0,420.0 642.4,413.0 643.6,411.0 644.6,416.0 645.4,430.0 646.2,450.0 647.0,468.0 647.8,476.0 648.6,470.0 649.6,460.0 650.6,454.0 651.6,451.0 652.6,458.0 653.6,468.0 654.6,473.0 655.8,471.0 657.0,460.0 658.2,446.0 659.4,439.0 660.6,446.0 661.8,456.0 662.6,462.0 663.8,458.0 665.0,452.0 666.0,444.0 667.0,435.0"/>
</g>
<text x="499.6" y="15.4" font-size="11.7px" fill="#474747" stroke="#474747" stroke-width="0.15" textLength="23.3" lengthAdjust="spacingAndGlyphs" font-family="'Liberation Sans','Noto Sans CJK SC',sans-serif">阻力</text>
<text x="527.0" y="15.5" font-size="12.2px" fill="#474747" stroke="#474747" stroke-width="0.15" textLength="46.0" lengthAdjust="spacingAndGlyphs">13283.53</text>
<text x="573.6" y="15.4" font-size="11.7px" fill="#474747" stroke="#474747" stroke-width="0.15" font-family="'Liberation Sans','Noto Sans CJK SC',sans-serif">至</text>
<text x="586.0" y="15.5" font-size="12.2px" fill="#474747" stroke="#474747" stroke-width="0.15" textLength="47.0" lengthAdjust="spacingAndGlyphs">13354.98</text>
<text x="674.6" y="118.8" font-size="11.7px" fill="#474747" stroke="#474747" stroke-width="0.15" textLength="23.3" lengthAdjust="spacingAndGlyphs" font-family="'Liberation Sans','Noto Sans CJK SC',sans-serif">支撑</text>
<text x="702.0" y="118.5" font-size="12.2px" fill="#474747" stroke="#474747" stroke-width="0.15" textLength="45.4" lengthAdjust="spacingAndGlyphs">13024.25</text>
<text x="747.6" y="118.8" font-size="11.7px" fill="#474747" stroke="#474747" stroke-width="0.15" font-family="'Liberation Sans','Noto Sans CJK SC',sans-serif">至</text>
<text x="760.0" y="118.5" font-size="12.2px" fill="#474747" stroke="#474747" stroke-width="0.15" textLength="47.4" lengthAdjust="spacingAndGlyphs">13079.63</text>
<text x="4.4" y="400.6" font-size="12.2px" fill="#3a3a3a" stroke="#3a3a3a" stroke-width="0.15" textLength="25.6" lengthAdjust="spacingAndGlyphs">2023</text>
<text x="30.6" y="400.5" font-size="11.7px" fill="#3a3a3a" stroke="#3a3a3a" stroke-width="0.15" font-family="'Liberation Sans','Noto Sans CJK SC',sans-serif">年</text>
<text x="43.0" y="400.6" font-size="12.2px" fill="#3a3a3a" stroke="#3a3a3a" stroke-width="0.15" textLength="6.4" lengthAdjust="spacingAndGlyphs">4</text>
<text x="49.6" y="400.5" font-size="11.7px" fill="#3a3a3a" stroke="#3a3a3a" stroke-width="0.15" font-family="'Liberation Sans','Noto Sans CJK SC',sans-serif">月</text>
<text x="61.0" y="400.6" font-size="12.2px" fill="#3a3a3a" stroke="#3a3a3a" stroke-width="0.15" textLength="6.0" lengthAdjust="spacingAndGlyphs">3</text>
<text x="67.0" y="400.5" font-size="11.7px" fill="#3a3a3a" stroke="#3a3a3a" stroke-width="0.15" font-family="'Liberation Sans','Noto Sans CJK SC',sans-serif">日</text>
<text x="80.2" y="400.5" font-size="11.7px" fill="#3a3a3a" stroke="#3a3a3a" stroke-width="0.15" textLength="23.5" lengthAdjust="spacingAndGlyphs" font-family="'Liberation Sans','Noto Sans CJK SC',sans-serif">纳指</text>
<text x="104.4" y="400.6" font-size="12.2px" fill="#3a3a3a" stroke="#3a3a3a" stroke-width="0.15" textLength="12.2" lengthAdjust="spacingAndGlyphs">15</text>
<text x="116.8" y="400.5" font-size="11.7px" fill="#3a3a3a" stroke="#3a3a3a" stroke-width="0.15" textLength="23.5" lengthAdjust="spacingAndGlyphs" font-family="'Liberation Sans','Noto Sans CJK SC',sans-serif">分钟</text>
<text x="141.0" y="400.6" font-size="12.2px" fill="#3a3a3a" stroke="#3a3a3a" stroke-width="0.15" textLength="6.6" lengthAdjust="spacingAndGlyphs">K</text>
<text x="147.4" y="400.5" font-size="11.7px" fill="#3a3a3a" stroke="#3a3a3a" stroke-width="0.15" font-family="'Liberation Sans','Noto Sans CJK SC',sans-serif">线</text>
</svg>
</body></html>
